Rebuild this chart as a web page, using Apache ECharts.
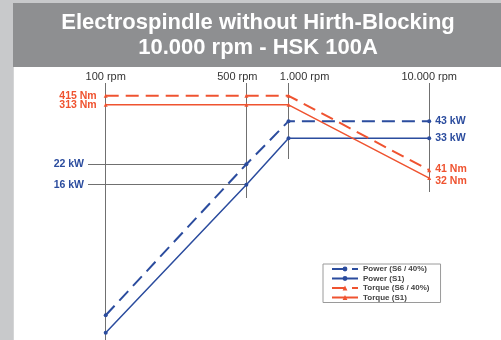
<!DOCTYPE html>
<html>
<head>
<meta charset="utf-8">
<script src="https://cdn.jsdelivr.net/npm/echarts@6/dist/echarts.min.js"></script>
<style>
html,body{margin:0;padding:0;background:#fff;}
#chart{width:501px;height:340px;}
</style>
</head>
<body>
<div id="chart"></div>
<script>
// ---- data ----
const rpmValues = [100, 500, 1000, 10000];
const rpmLabels = ['100 rpm', '500 rpm', '1.000 rpm', '10.000 rpm'];
// the speed axis of the original is schematic (not to scale): position of each speed on it
const rpmAxisPos = [0, 10, 13, 23];
const seriesNames = ['Power (S6 / 40%)', 'Power (S1)', 'Torque (S6 / 40%)', 'Torque (S1)'];
const powerS6 = [2.1, 22, 43, 43];   // kW
const powerS1 = [1.6, 16, 33, 33];   // kW
const torqueS6 = [415, 415, 415, 41]; // Nm
const torqueS1 = [313, 313, 313, 32]; // Nm

const BLUE = '#2b4c9e';
const RED = '#ef5330';
const GUIDE = '#707070';
const FONT = '"Liberation Sans", Arial, sans-serif';

function points(values, unit, showFirst, showLast, color, lastOffset) {
  return values.map((v, i) => {
    const item = { value: [rpmAxisPos[i], v] };
    const first = i === 0, last = i === values.length - 1;
    if ((first && showFirst) || (last && showLast)) {
      item.label = {
        show: true,
        position: first ? 'left' : 'right',
        distance: first ? 7 : 4,
        offset: last && lastOffset ? [0, lastOffset] : [0, 0],
        formatter: v + ' ' + unit,
        color: color,
        fontWeight: 'bold',
        fontSize: 10.5,
        fontFamily: FONT
      };
    }
    return item;
  });
}

const labelStyle = (color) => ({ color: color, fontWeight: 'bold', fontSize: 10.5, fontFamily: FONT });

const chart = echarts.init(document.getElementById('chart'), null, { renderer: 'canvas' });
chart.setOption({
  animation: false,
  backgroundColor: '#ffffff',
  graphic: [
    { type: 'rect', shape: { x: 0, y: 0, width: 13, height: 340 }, style: { fill: '#c8c9cb' }, z: -10 },
    { type: 'rect', shape: { x: 13, y: 0, width: 488, height: 3 }, style: { fill: '#c8c9cb' }, z: -10 },
    { type: 'rect', shape: { x: 13, y: 3, width: 488, height: 64 }, style: { fill: '#8e8f91' }, z: -10 },
    { type: 'rect', shape: { x: 13, y: 67, width: 1, height: 273 }, style: { fill: '#d4d5d6' }, z: -10 }
  ],
  title: {
    text: 'Electrospindle without Hirth-Blocking\n10.000 rpm - HSK 100A',
    left: 258,
    top: 10,
    padding: 0,
    textAlign: 'center',
    textStyle: { color: '#ffffff', fontSize: 22, fontWeight: 'bold', fontFamily: FONT, lineHeight: 25 }
  },
  legend: {
    orient: 'vertical',
    left: 323,
    top: 264,
    itemWidth: 26,
    itemHeight: 6,
    itemGap: 1.5,
    padding: [1, 11, 1, 8],
    borderColor: '#9a9a9a',
    borderWidth: 1,
    backgroundColor: '#ffffff',
    selectedMode: false,
    data: seriesNames,
    textStyle: { fontSize: 8, fontWeight: 'bold', color: '#444', fontFamily: FONT }
  },
  grid: { left: 105.7, right: 71.8, top: 83, bottom: 0, containLabel: false },
  xAxis: {
    type: 'value',
    position: 'top',
    min: 0,
    max: 23,
    interval: 1,
    axisLine: { show: false },
    axisTick: { show: false },
    splitLine: { show: false },
    axisLabel: {
      margin: 1,
      fontSize: 11,
      color: '#333',
      fontFamily: FONT,
      showMinLabel: true,
      showMaxLabel: true,
      formatter: (val) => {
        const i = rpmAxisPos.indexOf(val);
        return i < 0 ? '' : '{s' + i + '|' + rpmLabels[i] + '}';
      },
      rich: {
        s0: { fontSize: 11, color: '#333', fontFamily: FONT },
        s1: { fontSize: 11, color: '#333', fontFamily: FONT, padding: [0, 18, 0, 0] },
        s2: { fontSize: 11, color: '#333', fontFamily: FONT, padding: [0, 0, 0, 32] },
        s3: { fontSize: 11, color: '#333', fontFamily: FONT }
      }
    }
  },
  yAxis: [
    { type: 'log', min: 1.428, max: 77.83, show: false },   // power (schematic log scale)
    { type: 'log', min: 0.2078, max: 617.3, show: false }   // torque (schematic log scale)
  ],
  series: [
    {
      name: seriesNames[0], type: 'line', yAxisIndex: 0,
      data: points(powerS6, 'kW', false, true, BLUE, 0),
      symbol: 'circle', symbolSize: 4,
      itemStyle: { color: BLUE },
      lineStyle: { color: BLUE, width: 2, type: [13, 7] },
      markLine: {
        silent: true, symbol: 'none', z: 1,
        lineStyle: { color: GUIDE, width: 1, type: 'solid' },
        label: Object.assign({ show: true, position: 'start', distance: 4 }, labelStyle(BLUE)),
        data: [
          [{ x: 88, yAxis: powerS6[1], label: { formatter: powerS6[1] + ' kW' } },
           { xAxis: rpmAxisPos[1], yAxis: powerS6[1] }]
        ]
      }
    },
    {
      name: seriesNames[1], type: 'line', yAxisIndex: 0,
      data: points(powerS1, 'kW', false, true, BLUE, 0),
      symbol: 'circle', symbolSize: 4,
      itemStyle: { color: BLUE },
      lineStyle: { color: BLUE, width: 1.5, type: 'solid' },
      markLine: {
        silent: true, symbol: 'none', z: 1,
        lineStyle: { color: GUIDE, width: 1, type: 'solid' },
        label: Object.assign({ show: true, position: 'start', distance: 4 }, labelStyle(BLUE)),
        data: [
          [{ x: 88, yAxis: powerS1[1], label: { formatter: powerS1[1] + ' kW' } },
           { xAxis: rpmAxisPos[1], yAxis: powerS1[1] }]
        ]
      }
    },
    {
      name: seriesNames[2], type: 'line', yAxisIndex: 1,
      data: points(torqueS6, 'Nm', true, true, RED, -1),
      symbol: 'triangle', symbolSize: 4,
      itemStyle: { color: RED },
      lineStyle: { color: RED, width: 2, type: [13, 7] }
    },
    {
      name: seriesNames[3], type: 'line', yAxisIndex: 1,
      data: points(torqueS1, 'Nm', true, true, RED, 3),
      symbol: 'triangle', symbolSize: 4,
      itemStyle: { color: RED },
      lineStyle: { color: RED, width: 1.5, type: 'solid' },
      markLine: {
        silent: true, symbol: 'none', z: 1,
        lineStyle: { color: GUIDE, width: 1, type: 'solid' },
        label: { show: false },
        data: [
          [{ xAxis: rpmAxisPos[0], y: 83 }, { xAxis: rpmAxisPos[0], y: 340 }],
          [{ xAxis: rpmAxisPos[1], y: 83 }, { xAxis: rpmAxisPos[1], y: 198 }],
          [{ xAxis: rpmAxisPos[2], y: 83 }, { xAxis: rpmAxisPos[2], y: 159 }],
          [{ xAxis: rpmAxisPos[3], y: 83 }, { xAxis: rpmAxisPos[3], y: 192 }]
        ]
      }
    }
  ]
});
</script>
</body>
</html>
